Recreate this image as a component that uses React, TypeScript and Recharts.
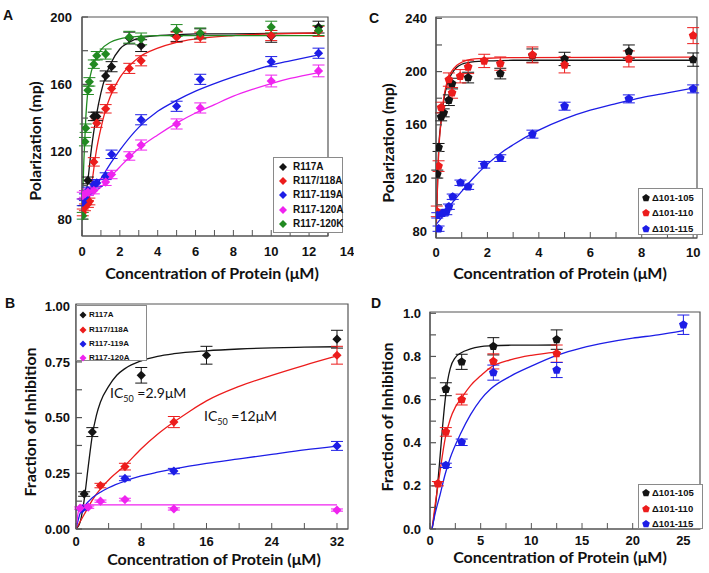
import React from "react";
import { ComposedChart, Line, Scatter, XAxis, YAxis, ErrorBar, ReferenceArea } from "recharts";

const BLACK = "#141414";
const RED = "#ec1c1c";
const BLUE = "#1d1de6";
const MAGENTA = "#ef23ef";
const GREEN = "#218a21";
const AXIS = "#555555";
const TICK_FONT = "'Liberation Sans', Arial, sans-serif";
const TITLE_FONT = "Lato, 'Open Sans', sans-serif";

// ---------- Panel A: polarization (mP) vs protein (µM); [x, y, sd]
const aR117A = [[0.1, 90, 2], [0.3125, 103, 2], [0.625, 141, 2.5], [0.78, 141, 2.5], [1.25, 165, 3], [1.5625, 170.5, 3], [2.5, 187.5, 3.5], [3.125, 183, 3.5], [5, 188.5, 3], [6.25, 190, 3], [10, 188.5, 3.5], [12.5, 194, 3.5]];
const aR117_118A = [[0.04, 84, 2], [0.156, 87, 2], [0.3125, 89, 2], [0.39, 90.5, 2], [0.625, 114, 2.5], [0.78, 137, 2.5], [1.25, 145.5, 2.5], [1.5625, 157.5, 2.5], [2.5, 169.5, 3], [3.125, 174, 3], [5, 188, 3], [6.25, 188, 3], [10, 189, 3], [12.5, 191.5, 3]];
const aR117_119A = [[0.04, 90, 2], [0.156, 93, 2], [0.3125, 97, 2], [0.625, 100.5, 2], [0.78, 101.5, 2], [1.25, 105.5, 2], [1.5625, 118.5, 2.5], [3.125, 139, 3], [5, 147, 3], [6.25, 163, 3], [10, 173.5, 3], [12.5, 178.5, 3]];
const aR117_120A = [[0.04, 94, 2], [0.156, 95, 2], [0.3125, 96, 2], [0.625, 97, 2], [1.25, 102, 2], [1.5625, 106.5, 2.5], [2.5, 117.5, 2.5], [3.125, 124, 3], [5, 136.5, 3], [6.25, 146, 3], [10, 162, 3.5], [12.5, 168, 3.5]];
const aR117_120K = [[0.04, 82, 2], [0.156, 126, 2.5], [0.195, 134, 2.5], [0.3125, 156.5, 2.5], [0.39, 161.5, 2.5], [0.625, 172, 2.5], [0.78, 177, 2.5], [1.25, 178, 3], [2.5, 188, 3.5], [3.125, 187, 3.5], [5, 192, 3.5], [6.25, 190.5, 3], [10, 194, 3.5], [12.5, 192, 3]];

// fitted curves: [x, y]
const aFitR117A = [[0, 88], [0.25, 98], [0.5, 122], [0.75, 141], [1, 155], [1.25, 165], [1.5, 172], [2, 181], [2.5, 185], [3, 187.5], [4, 189], [5, 189.5], [6, 190], [8, 190], [10, 190.2], [12.5, 190.5]];
const aFitR117_118A = [[0, 85], [0.25, 87], [0.5, 100], [0.75, 120], [1, 134], [1.25, 145], [1.5, 153], [2, 164], [2.5, 171], [3, 176], [4, 181.5], [5, 185], [6, 187], [8, 189], [10, 190], [12.5, 190.5]];
const aFitR117_119A = [[0, 92], [0.5, 97], [1, 104], [1.5, 113], [2, 121], [3, 134.5], [4, 144], [5, 150.5], [6, 156], [7, 160.5], [8, 164.5], [9, 168], [10, 171.5], [11, 174], [12.5, 177.5]];
const aFitR117_120A = [[0, 92], [0.5, 95], [1, 99], [1.5, 105], [2, 111], [3, 122], [4, 130], [5, 137], [6, 143], [7, 148], [8, 153], [9, 157], [10, 160.5], [11, 163.5], [12.5, 167]];
const aFitR117_120K = [[0, 82], [0.1, 115], [0.2, 140], [0.3, 155], [0.4, 163], [0.5, 168], [0.75, 176], [1, 180.5], [1.5, 185], [2, 187], [3, 188.5], [4, 189], [6, 189], [12.5, 189]];

const aXTicks = [0, 1, 2, 3, 4, 5, 6, 7, 8, 9, 10, 11, 12, 13, 14];
const aXLabels = [0, 2, 4, 6, 8, 10, 12, 14];
const aYTicks = [80, 100, 120, 140, 160, 180, 200];
const aYLabels = [80, 120, 160, 200];

// ---------- Panel B: fraction of inhibition
const bR117A = [[1, 0.157, 0.01], [2, 0.435, 0.02], [8, 0.69, 0.035], [16, 0.78, 0.04], [32, 0.852, 0.04]];
const bR117_118A = [[3, 0.195, 0.01], [6, 0.28, 0.015], [12, 0.48, 0.025], [32, 0.78, 0.04]];
const bR117_119A = [[0.75, 0.09, 0.005], [6, 0.227, 0.01], [12, 0.26, 0.012], [32, 0.373, 0.02]];
const bR117_120A = [[0.5, 0.094, 0.005], [1.5, 0.098, 0.005], [3, 0.125, 0.005], [6, 0.132, 0.006], [12, 0.09, 0.005], [32, 0.085, 0.005]];

const bFitR117A = [[0, 0], [0.5, 0.03], [1, 0.13], [1.5, 0.28], [2, 0.42], [2.5, 0.51], [3, 0.57], [4, 0.64], [5, 0.69], [6, 0.72], [8, 0.755], [10, 0.775], [12, 0.787], [16, 0.8], [20, 0.808], [24, 0.813], [28, 0.816], [32, 0.818]];
const bFitR117_118A = [[0, 0], [1, 0.065], [2, 0.13], [3, 0.18], [4, 0.22], [6, 0.285], [8, 0.36], [10, 0.425], [12, 0.48], [14, 0.53], [16, 0.575], [20, 0.64], [24, 0.69], [28, 0.735], [32, 0.777]];
const bFitR117_119A = [[0, 0], [0.5, 0.07], [1, 0.1], [2, 0.14], [3, 0.165], [4, 0.185], [6, 0.215], [8, 0.238], [10, 0.255], [12, 0.27], [16, 0.295], [20, 0.315], [24, 0.335], [28, 0.355], [32, 0.372]];
const bFitR117_120A = [[0, 0], [0.3, 0.08], [0.6, 0.105], [1, 0.108], [32, 0.108]];

const bXTicks = [0, 4, 8, 12, 16, 20, 24, 28, 32];
const bXLabels = [0, 8, 16, 24, 32];
const bYTicks = [0, 0.125, 0.25, 0.375, 0.5, 0.625, 0.75, 0.875, 1];
const bYLabels = [0, 0.25, 0.5, 0.75, 1];

// ---------- Panel C: polarization, deletion mutants
const cD105 = [[0.05, 123, 3], [0.1, 143, 3], [0.2, 166, 3], [0.3, 169, 3], [0.5, 178.5, 4], [0.625, 191, 4], [1.25, 195.5, 4], [2.5, 198.5, 4], [3.75, 212, 5], [5, 209.5, 5], [7.5, 215, 5], [10, 209, 5]];
const cD110 = [[0.03, 95, 4], [0.1, 129, 4], [0.2, 173, 4], [0.5, 194, 5], [0.625, 184, 4], [0.94, 196.5, 5], [1.25, 203.5, 5], [1.875, 208, 5], [2.5, 206, 5], [3.75, 212.5, 6], [5, 205, 6], [7.5, 209.5, 6], [10, 227, 6]];
const cD115 = [[0.05, 92, 2], [0.1, 82, 2], [0.25, 93.5, 2], [0.4, 94.5, 2], [0.5, 98.5, 2], [0.65, 106, 2], [0.95, 116.5, 2], [1.25, 113.5, 2], [1.875, 130, 2.5], [2.5, 135, 2.5], [3.75, 153, 3], [5, 174, 3], [7.5, 179.5, 3], [10, 187, 3]];

const cFitD105 = [[0, 78], [0.05, 110], [0.1, 140], [0.2, 163], [0.3, 178], [0.4, 188], [0.5, 194], [0.6, 198], [0.8, 203], [1, 205.5], [1.5, 207.5], [2, 208], [3, 208.5], [5, 208.5], [10, 208.5]];
const cFitD110 = [[0, 78], [0.05, 108], [0.1, 137], [0.2, 163], [0.3, 180], [0.4, 190], [0.5, 196], [0.6, 200], [0.8, 204.5], [1, 207], [1.5, 209.5], [2, 210], [3, 210.5], [10, 210.8]];
const cFitD115 = [[0, 85], [0.25, 91], [0.5, 98], [1, 110], [1.5, 121], [2, 130.5], [2.5, 138.5], [3, 145], [4, 156], [5, 164.5], [6, 171], [7, 176], [8, 180.5], [9, 184], [10, 187.5]];

const cXTicks = [0, 1, 2, 3, 4, 5, 6, 7, 8, 9, 10];
const cXLabels = [0, 2, 4, 6, 8, 10];
const cYTicks = [80, 100, 120, 140, 160, 180, 200, 220, 240];
const cYLabels = [80, 120, 160, 200, 240];

// ---------- Panel D: fraction of inhibition, deletion mutants
const dD105 = [[1.5625, 0.648, 0.03], [3.125, 0.775, 0.035], [6.25, 0.847, 0.04], [12.5, 0.878, 0.045]];
const dD110 = [[0.78, 0.21, 0.01], [1.5625, 0.45, 0.02], [3.125, 0.6, 0.025], [6.25, 0.777, 0.035], [12.5, 0.813, 0.04]];
const dD115 = [[1.5625, 0.295, 0.01], [3.125, 0.402, 0.015], [6.25, 0.725, 0.035], [12.5, 0.737, 0.035], [25, 0.947, 0.045]];

const dFitD105 = [[0.2, 0], [0.5, 0.09], [0.8, 0.23], [1, 0.34], [1.25, 0.48], [1.5, 0.6], [1.75, 0.69], [2, 0.745], [2.5, 0.795], [3, 0.815], [4, 0.835], [5, 0.845], [6, 0.849], [8, 0.852], [12.5, 0.853]];
const dFitD110 = [[0.2, 0], [0.5, 0.11], [0.78, 0.2], [1, 0.27], [1.5, 0.42], [2, 0.51], [2.5, 0.565], [3, 0.6], [4, 0.665], [5, 0.71], [6, 0.75], [8, 0.785], [10, 0.805], [12.5, 0.82]];
const dFitD115 = [[0.2, 0], [0.5, 0.07], [1, 0.16], [1.5, 0.255], [2, 0.33], [3, 0.44], [4, 0.53], [5, 0.6], [6, 0.65], [8, 0.71], [10, 0.755], [12.5, 0.805], [15, 0.84], [17.5, 0.865], [20, 0.885], [22.5, 0.9], [25, 0.92]];

const dXTicks = [0, 2.5, 5, 7.5, 10, 12.5, 15, 17.5, 20, 22.5, 25];
const dXLabels = [0, 5, 10, 15, 20, 25];
const dYTicks = [0, 0.1, 0.2, 0.3, 0.4, 0.5, 0.6, 0.7, 0.8, 0.9, 1];
const dYLabels = [0, 0.2, 0.4, 0.6, 0.8, 1];

const namesA = ["R117A", "R117/118A", "R117-119A", "R117-120A", "R117-120K"];
const namesC = ["\u0394101-105", "\u0394101-110", "\u0394101-115"];

type Series = { name: string; color: string; pts: number[][]; fit: number[][] };
type Kind = "diamond" | "pentagon";

const seriesA: Series[] = [
  { name: namesA[0], color: BLACK, pts: aR117A, fit: aFitR117A },
  { name: namesA[1], color: RED, pts: aR117_118A, fit: aFitR117_118A },
  { name: namesA[2], color: BLUE, pts: aR117_119A, fit: aFitR117_119A },
  { name: namesA[3], color: MAGENTA, pts: aR117_120A, fit: aFitR117_120A },
  { name: namesA[4], color: GREEN, pts: aR117_120K, fit: aFitR117_120K },
];
const seriesB: Series[] = [
  { name: namesA[0], color: BLACK, pts: bR117A, fit: bFitR117A },
  { name: namesA[1], color: RED, pts: bR117_118A, fit: bFitR117_118A },
  { name: namesA[2], color: BLUE, pts: bR117_119A, fit: bFitR117_119A },
  { name: namesA[3], color: MAGENTA, pts: bR117_120A, fit: bFitR117_120A },
];
const seriesC: Series[] = [
  { name: namesC[0], color: BLACK, pts: cD105, fit: cFitD105 },
  { name: namesC[1], color: RED, pts: cD110, fit: cFitD110 },
  { name: namesC[2], color: BLUE, pts: cD115, fit: cFitD115 },
];
const seriesD: Series[] = [
  { name: namesC[0], color: BLACK, pts: dD105, fit: dFitD105 },
  { name: namesC[1], color: RED, pts: dD110, fit: dFitD110 },
  { name: namesC[2], color: BLUE, pts: dD115, fit: dFitD115 },
];

function marker(kind: Kind, cx: number, cy: number, r: number, color: string) {
  if (kind === "diamond") {
    return <polygon points={`${cx},${cy - r} ${cx + r},${cy} ${cx},${cy + r} ${cx - r},${cy}`} fill={color} />;
  }
  const pts = [0, 1, 2, 3, 4]
    .map((i) => {
      const a = -Math.PI / 2 + (i * 2 * Math.PI) / 5;
      return `${cx + r * Math.cos(a)},${cy + r * Math.sin(a)}`;
    })
    .join(" ");
  return <polygon points={pts} fill={color} />;
}

type PanelProps = {
  left: number; top: number; width: number; height: number;
  margin: { top: number; right: number; bottom: number; left: number };
  series: Series[]; kind: Kind;
  xDomain: [number, number]; yDomain: [number, number];
  xTicks: number[]; xLabels: number[]; yTicks: number[]; yLabels: number[];
  xFmt: (v: number) => string; yFmt: (v: number) => string;
  xGap: number; yGap: number;
};

function Panel(p: PanelProps) {
  // x ticks drawn inward; a label beyond the box (panel A's 14) gets no tick mark
  const xTick = (t: any) => {
    const v = t.payload.value;
    const base = t.y - p.xGap;
    return (
      <g>
        {v <= p.xDomain[1] && <line x1={t.x} x2={t.x} y1={base} y2={base - 6} stroke={AXIS} strokeWidth={1} />}
        {p.xLabels.includes(v) && (
          <text x={t.x} y={t.y} dy="0.72em" textAnchor="middle" fill="#111" fontSize={13} fontWeight={700} fontFamily={TICK_FONT}>
            {p.xFmt(v)}
          </text>
        )}
      </g>
    );
  };
  return (
    <div style={{ position: "absolute", left: p.left, top: p.top }}>
      <ComposedChart width={p.width} height={p.height} margin={p.margin}>
        <XAxis
          type="number" dataKey="x" domain={p.xDomain} ticks={p.xTicks} interval={0} allowDataOverflow
          height={30} stroke={AXIS} strokeWidth={1.2} tickLine={false} tickSize={0} tickMargin={p.xGap} tick={xTick}
        />
        <YAxis
          type="number" dataKey="y" domain={p.yDomain} ticks={p.yTicks} interval={0} allowDataOverflow
          width={60} stroke={AXIS} strokeWidth={1.2} tickSize={-6} tickMargin={p.yGap + 6}
          tickFormatter={(v: number) => (p.yLabels.includes(v) ? p.yFmt(v) : "")}
          tick={{ fill: "#111", fontSize: 13, fontWeight: 700, fontFamily: TICK_FONT }}
        />
        <ReferenceArea x1={p.xDomain[0]} x2={p.xDomain[1]} y1={p.yDomain[0]} y2={p.yDomain[1]} fill="none" stroke={AXIS} strokeWidth={1.2} fillOpacity={0} />
        {p.series.map((s) => (
          <Line
            key={"fit" + s.name} data={s.fit.map(([x, y]) => ({ x, y }))} dataKey="y" type="monotone"
            stroke={s.color} strokeWidth={1.3} dot={false} activeDot={false} legendType="none" isAnimationActive={false}
          />
        ))}
        {p.series.map((s) => (
          <Scatter
            key={"pts" + s.name} name={s.name} data={s.pts.map(([x, y, e]) => ({ x, y, e }))} dataKey="y" fill={s.color}
            shape={(sp: any) => marker(p.kind, sp.cx, sp.cy, 4.6, s.color)} isAnimationActive={false}
          >
            <ErrorBar dataKey="e" direction="y" width={6} stroke={s.color} strokeWidth={1} />
          </Scatter>
        ))}
      </ComposedChart>
    </div>
  );
}

function LegendBox(props: {
  left: number; top: number; width: number; height: number; series: Series[]; kind: Kind;
  rows: number[]; markerX: number; textX: number; fontSize: number; r: number;
}) {
  return (
    <div style={{ position: "absolute", left: props.left, top: props.top, width: props.width, height: props.height, border: "1px solid #8a8a8a", background: "#fff", boxSizing: "border-box" }}>
      {props.series.map((s, i) => (
        <div key={s.name} style={{ position: "absolute", left: 0, top: props.rows[i] - 7, height: 14, width: "100%" }}>
          <svg width={14} height={14} style={{ position: "absolute", left: props.markerX - 7, top: 0 }}>
            {marker(props.kind, 7, 7, props.r, s.color)}
          </svg>
          <span style={{ position: "absolute", left: props.textX, top: 0, lineHeight: "14px", fontSize: props.fontSize, fontWeight: 700, fontFamily: TICK_FONT, color: "#111", whiteSpace: "nowrap" }}>
            {s.name}
          </span>
        </div>
      ))}
    </div>
  );
}

const titleStyle = (cx: number, cy: number, rotate: boolean): React.CSSProperties => ({
  position: "absolute", left: cx, top: cy, transform: `translate(-50%, -50%)${rotate ? " rotate(-90deg)" : ""}`,
  whiteSpace: "nowrap", fontFamily: TITLE_FONT, fontWeight: 700, fontSize: 16, color: "#111", lineHeight: "14px",
});
const letterStyle = (x: number, y: number): React.CSSProperties => ({
  position: "absolute", left: x, top: y, fontFamily: TICK_FONT, fontWeight: 700, fontSize: 14, lineHeight: "14px", color: "#111",
});
const icStyle = (x: number, y: number): React.CSSProperties => ({
  position: "absolute", left: x, top: y, fontFamily: TITLE_FONT, fontSize: 14, lineHeight: "16px", color: "#111", whiteSpace: "nowrap",
});

const int = (v: number) => String(v);
const fix2 = (v: number) => v.toFixed(2);
const fix1 = (v: number) => v.toFixed(1);

export default function App() {
  return (
    <div style={{ position: "absolute", left: 0, top: 0, width: 709, height: 573, background: "#fff", overflow: "hidden" }}>
      <Panel left={0} top={0} width={354} height={280} margin={{ top: 17, right: 26, bottom: 14, left: 22 }}
        series={seriesA} kind="diamond" xDomain={[0, 13]} yDomain={[70, 200]}
        xTicks={aXTicks} xLabels={aXLabels} yTicks={aYTicks} yLabels={aYLabels} xFmt={int} yFmt={int} xGap={11} yGap={10} />
      <Panel left={354} top={0} width={355} height={280} margin={{ top: 17, right: 12, bottom: 12, left: 22 }}
        series={seriesC} kind="pentagon" xDomain={[0, 10.15]} yDomain={[75, 241]}
        xTicks={cXTicks} xLabels={cXLabels} yTicks={cYTicks} yLabels={cYLabels} xFmt={int} yFmt={int} xGap={10} yGap={9} />
      <Panel left={0} top={280} width={354} height={293} margin={{ top: 24, right: 6, bottom: 14, left: 16 }}
        series={seriesB} kind="diamond" xDomain={[0, 33.35]} yDomain={[0, 1.01]}
        xTicks={bXTicks} xLabels={bXLabels} yTicks={bYTicks} yLabels={bYLabels} xFmt={int} yFmt={fix2} xGap={8} yGap={6} />
      <Panel left={354} top={280} width={355} height={293} margin={{ top: 32, right: 9, bottom: 14, left: 16 }}
        series={seriesD} kind="pentagon" xDomain={[0, 26.64]} yDomain={[0, 1.006]}
        xTicks={dXTicks} xLabels={dXLabels} yTicks={dYTicks} yLabels={dYLabels} xFmt={int} yFmt={fix1} xGap={7} yGap={9} />

      <LegendBox left={273} top={157} width={70} height={76} series={seriesA} kind="diamond" rows={[9, 23, 37, 52, 66]} markerX={9} textX={19} fontSize={10} r={4} />
      <LegendBox left={76} top={305} width={71} height={56} series={seriesB} kind="diamond" rows={[9, 24, 38, 52]} markerX={6} textX={12} fontSize={8} r={3.5} />
      <LegendBox left={638} top={188} width={65} height={47} series={seriesC} kind="pentagon" rows={[9, 24, 40]} markerX={7} textX={13} fontSize={9.5} r={4} />
      <LegendBox left={638} top={484} width={65} height={45} series={seriesD} kind="pentagon" rows={[8, 24, 39]} markerX={7} textX={13} fontSize={9.5} r={4} />

      <div style={letterStyle(3, 8)}>A</div>
      <div style={letterStyle(5, 296)}>B</div>
      <div style={letterStyle(369, 11)}>C</div>
      <div style={letterStyle(371, 296)}>D</div>

      <div style={titleStyle(35, 141, true)}>Polarization (mp)</div>
      <div style={titleStyle(388, 143, true)}>Polarization (mp)</div>
      <div style={titleStyle(30, 422, true)}>Fraction of Inhibition</div>
      <div style={titleStyle(387, 417, true)}>Fraction of Inhibition</div>

      <div style={titleStyle(212, 273, false)}>Concentration of Protein (μM)</div>
      <div style={titleStyle(560, 273, false)}>Concentration of Protein (μM)</div>
      <div style={titleStyle(214, 559, false)}>Concentration of Protein (μM)</div>
      <div style={titleStyle(560, 557, false)}>Concentration of Protein (μM)</div>

      <div style={icStyle(110, 385)}>IC<sub style={{ fontSize: 9 }}>50</sub> =2.9μM</div>
      <div style={icStyle(204, 408)}>IC<sub style={{ fontSize: 9 }}>50</sub> =12μM</div>
    </div>
  );
}
